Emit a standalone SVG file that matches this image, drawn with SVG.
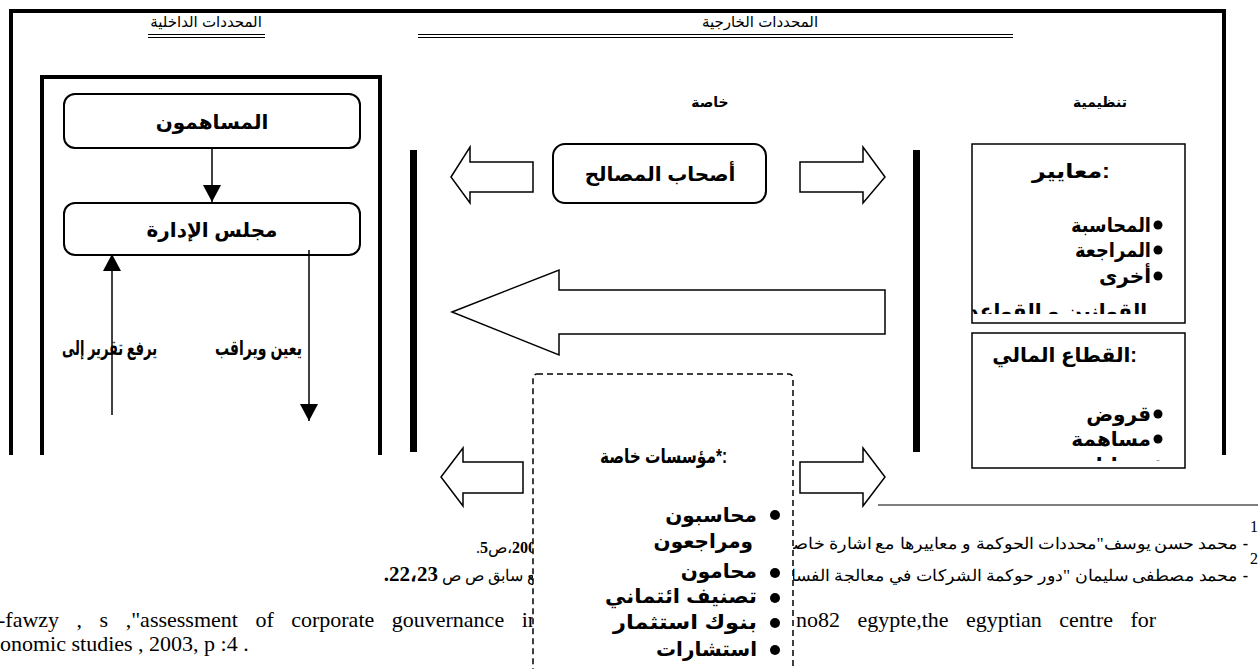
<svg xmlns="http://www.w3.org/2000/svg" width="1258" height="669" viewBox="0 0 1258 669">
<style>
  .lbl{font-family:"Liberation Sans","DejaVu Sans",sans-serif;font-weight:bold;font-size:20px;fill:#000}
  .hdr{font-family:"Liberation Sans","DejaVu Sans",sans-serif;font-size:15px;fill:#000}
  .cat{font-family:"Liberation Sans","DejaVu Sans",sans-serif;font-weight:bold;font-size:14px;fill:#000}
  .fn{font-family:"Liberation Serif","DejaVu Serif",serif;font-size:16px;fill:#000}
  .en{font-family:"Liberation Serif",serif;font-size:22px;fill:#000}
  .thick{stroke:#000;stroke-width:7;fill:none}
  .frame{stroke:#000;stroke-width:4;fill:none}
  .blk{fill:#fff;stroke:#000;stroke-width:1.5;stroke-linejoin:miter}
  .rbox{fill:#fff;stroke:#000;stroke-width:2}
  .sq{fill:#fff;stroke:#000;stroke-width:1.5}
  .ln{stroke:#000;stroke-width:1.5;fill:none}
  .dl{stroke:#000;stroke-width:1.2}
</style>
<defs>
  <marker id="tri" markerUnits="userSpaceOnUse" markerWidth="20" markerHeight="20" refX="17" refY="9" orient="auto">
    <path d="M0,0 L17,9 L0,18 Z" fill="#000"/>
  </marker>
  <clipPath id="clipStd"><rect x="972" y="144" width="213" height="170"/></clipPath>
  <clipPath id="clipFin"><rect x="972" y="333" width="213" height="128"/></clipPath>
</defs>
<rect width="1258" height="669" fill="#fff"/>

<!-- footnotes (page text behind the diagram) -->
<g id="footnotes">
  <line x1="878" y1="505" x2="1258" y2="505" stroke="#000" stroke-width="1.2"/>
  <text class="fn" x="1250" y="532" font-size="12">1</text>
  <text class="fn" x="1248" y="549" text-anchor="end" font-weight="bold">-</text>
  <text class="fn" x="1238" y="549" direction="rtl" text-anchor="start" textLength="455" lengthAdjust="spacingAndGlyphs" font-size="17">محمد حسن يوسف"محددات الحوكمة و معاييرها مع اشارة خاصة</text>
  <text class="fn" x="476" y="553" unicode-bidi="bidi-override" direction="ltr" font-size="19">.<tspan font-weight="bold">5</tspan>ص،<tspan font-weight="bold">2003</tspan></text>

  <text class="fn" x="1250" y="564" font-size="12">2</text>
  <text class="fn" x="1248" y="581" text-anchor="end" font-weight="bold">-</text>
  <text class="fn" x="1238" y="581" direction="rtl" text-anchor="start" textLength="455" lengthAdjust="spacingAndGlyphs" font-size="17">محمد مصطفى سليمان "دور حوكمة الشركات في معالجة الفساد</text>
  <text class="fn" x="564" y="581" direction="rtl" text-anchor="start" font-size="20">مرجع سابق ص ص <tspan font-weight="bold" font-size="21">22،23.</tspan></text>

  <text class="en" x="-2" y="627" word-spacing="12">-fawzy , s ,"assessment of corporate gouvernance in</text>
  <text class="en" x="796" y="627" word-spacing="12">no82 egypte,the egyptian centre for</text>
  <text class="en" x="0" y="651">onomic  studies , 2003, p :4 .</text>
</g>

<!-- outer frame and section headers -->
<g id="frame">
  <path class="frame" d="M11,455 V11 H1224 V455"/>
  <text class="hdr" x="206" y="27" text-anchor="middle">المحددات الداخلية</text>
  <line class="dl" x1="148" y1="34.5" x2="265" y2="34.5"/>
  <line class="dl" x1="148" y1="37.5" x2="265" y2="37.5"/>
  <text class="hdr" x="760" y="27" text-anchor="middle">المحددات الخارجية</text>
  <line class="dl" x1="418" y1="34.5" x2="1013" y2="34.5"/>
  <line class="dl" x1="418" y1="37.5" x2="1013" y2="37.5"/>
  <text class="cat" x="1100" y="107" text-anchor="middle">تنظيمية</text>
  <text class="cat" x="710" y="107" text-anchor="middle">خاصة</text>
  <line class="thick" x1="413.5" y1="150" x2="413.5" y2="452"/>
  <line class="thick" x1="916.5" y1="150" x2="916.5" y2="452"/>
</g>

<!-- internal determinants -->
<g id="internal">
  <path class="frame" d="M42,455 V77 H380 V455"/>
</g>
<g id="shareholders">
  <rect class="rbox" x="64" y="94" width="296" height="54" rx="11"/>
  <text class="lbl" x="212" y="129" text-anchor="middle">المساهمون</text>
</g>
<g id="board">
  <rect class="rbox" x="64" y="203" width="296" height="52" rx="11"/>
  <text class="lbl" x="212" y="237" text-anchor="middle">مجلس الإدارة</text>
</g>

<!-- connectors -->
<g id="connectors">
  <line class="ln" x1="212" y1="148" x2="212" y2="202" marker-end="url(#tri)"/>
  <line class="ln" x1="112" y1="415" x2="112" y2="254" marker-end="url(#tri)"/>
  <line class="ln" x1="309" y1="250" x2="309" y2="421" marker-end="url(#tri)"/>
  <text class="lbl" x="62" y="355" font-size="17" textLength="95" lengthAdjust="spacingAndGlyphs">يرفع تقرير إلى</text>
  <text class="lbl" x="215" y="355" font-size="17" textLength="87" lengthAdjust="spacingAndGlyphs">يعين ويراقب</text>
  <polygon class="blk" points="451,177 470,147 470,162 533,162 533,192 470,192 470,203"/>
  <polygon class="blk" points="800,162 863,162 863,147 885,177 863,203 863,192 800,192"/>
  <polygon class="blk" points="452,312 559,270 559,290 885,290 885,334 559,334 559,355"/>
  <polygon class="blk" points="441,477 463,448 463,462 523,462 523,493 463,493 463,506"/>
  <polygon class="blk" points="800,462 863,462 863,448 885,477 863,506 863,493 800,493"/>
</g>

<!-- stakeholders -->
<g id="stakeholders">
  <rect class="rbox" x="553" y="144" width="213" height="59" rx="12"/>
  <text class="lbl" x="660" y="181" text-anchor="middle">أصحاب المصالح</text>
</g>

<!-- standards box -->
<g id="standards">
  <rect class="sq" x="972" y="144" width="213" height="179"/>
  <text class="lbl" x="1032" y="178" textLength="78" lengthAdjust="spacingAndGlyphs">معايير:</text>
  <circle cx="1158" cy="225" r="4.5"/>
  <text class="lbl" x="1071" y="232" textLength="80" lengthAdjust="spacingAndGlyphs">المحاسبة</text>
  <circle cx="1158" cy="250" r="4.5"/>
  <text class="lbl" x="1075" y="257" textLength="76" lengthAdjust="spacingAndGlyphs">المراجعة</text>
  <circle cx="1158" cy="276" r="4.5"/>
  <text class="lbl" x="1151" y="283" text-anchor="end">أخرى</text>
  <text class="lbl" x="1147" y="318" text-anchor="end" clip-path="url(#clipStd)">القوانين و القواعد</text>
</g>

<!-- financial sector box -->
<g id="financial">
  <rect class="sq" x="972" y="333" width="213" height="135"/>
  <text class="lbl" x="1137" y="362" text-anchor="end">القطاع المالي:</text>
  <circle cx="1158" cy="414" r="4.5"/>
  <text class="lbl" x="1151" y="421" text-anchor="end">قروض</text>
  <circle cx="1158" cy="439" r="4.5"/>
  <text class="lbl" x="1151" y="446" text-anchor="end">مساهمة</text>
  <g clip-path="url(#clipFin)">
    <circle cx="1158" cy="465" r="4.5"/>
    <text class="lbl" x="1151" y="472" text-anchor="end">ضمانات</text>
  </g>
</g>

<!-- private institutions -->
<g id="private">
  <rect x="533" y="374" width="260" height="330" rx="4" fill="#fff" stroke="#000" stroke-width="1.5" stroke-dasharray="6 4"/>
  <text class="lbl" x="600" y="463" font-size="21" textLength="127" lengthAdjust="spacingAndGlyphs">مؤسسات خاصة*:</text>
  <circle cx="775" cy="515" r="5"/>
  <text class="lbl" x="757" y="522" text-anchor="end">محاسبون</text>
  <text class="lbl" x="753" y="548" text-anchor="end">ومراجعون</text>
  <circle cx="775" cy="573" r="5"/>
  <text class="lbl" x="757" y="578" text-anchor="end">محامون</text>
  <circle cx="775" cy="598" r="5"/>
  <text class="lbl" x="605" y="603" textLength="152" lengthAdjust="spacingAndGlyphs">تصنيف ائتماني</text>
  <circle cx="775" cy="623" r="5"/>
  <text class="lbl" x="613" y="629" textLength="144" lengthAdjust="spacingAndGlyphs">بنوك استثمار</text>
  <circle cx="775" cy="650" r="5"/>
  <text class="lbl" x="757" y="656" text-anchor="end">استشارات</text>
</g>
</svg>
